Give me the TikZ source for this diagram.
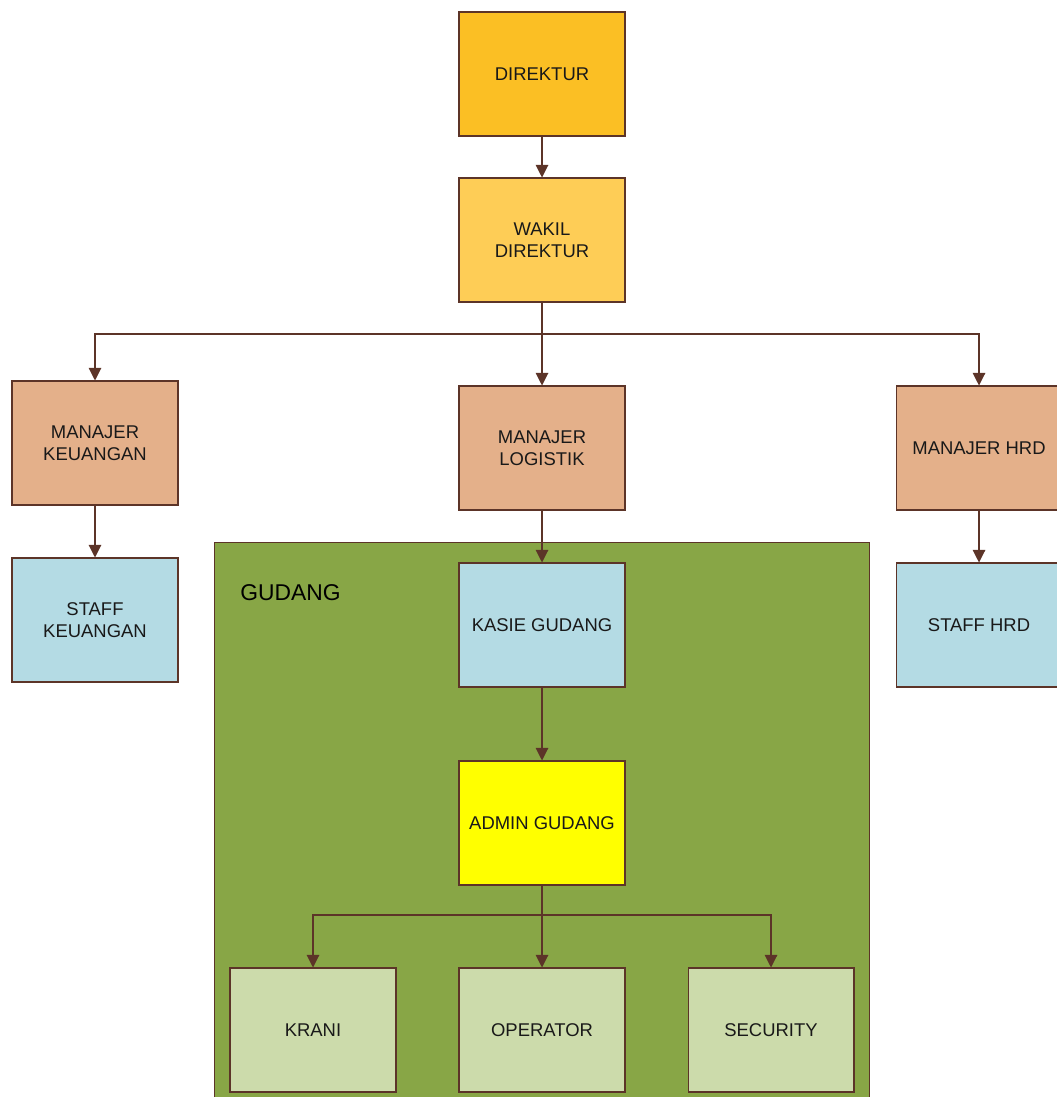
\documentclass[tikz,border=0pt]{standalone}
\usepackage{fontspec}
\setmainfont{Liberation Sans}
\usetikzlibrary{arrows.meta}
\definecolor{orgline}{RGB}{92,52,40}
\definecolor{direkturfill}{RGB}{251,191,36}
\definecolor{wakilfill}{RGB}{254,205,86}
\definecolor{manajerfill}{RGB}{228,176,138}
\definecolor{stafffill}{RGB}{180,219,228}
\definecolor{gudangfill}{RGB}{136,166,70}
\definecolor{adminfill}{RGB}{255,255,0}
\definecolor{pekerjafill}{RGB}{204,219,171}

\begin{document}
\begin{tikzpicture}[x=0.02cm, y=-0.02cm,
    box/.style={draw=orgline, line width=0.6pt, minimum width=3.32cm, minimum height=2.48cm,
                inner sep=0pt, align=center, text=black!90, font=\fontsize{10.5}{12.5}\selectfont},
    link/.style={draw=orgline, line width=0.6pt, -{Triangle[length=0.25cm, width=0.25cm]}}]
                \useasboundingbox (0,0) rectangle (1056,1097);

                % Gudang area
                \node[draw=orgline, line width=0.6pt, fill=gudangfill, anchor=north west,
                      minimum width=13.1cm, minimum height=12cm] (gudang) at (214,542) {};
                \node[anchor=west, inner sep=0pt, font=\fontsize{13}{15}\selectfont] (gudanglabel) at (240,593) {GUDANG};

                % Pimpinan
                \node[box, fill=direkturfill] (direktur) at (542,74) {DIREKTUR};
                \node[box, fill=wakilfill] (wakil) at (542,240) {WAKIL\\DIREKTUR};

                % Manajer
                \node[box, fill=manajerfill] (mkeuangan) at (95,443) {MANAJER\\KEUANGAN};
                \node[box, fill=manajerfill] (mlogistik) at (542,448) {MANAJER\\LOGISTIK};
                \node[box, fill=manajerfill] (mhrd) at (979,448) {MANAJER HRD};

                % Staff
                \node[box, fill=stafffill] (skeuangan) at (95,620) {STAFF\\KEUANGAN};
                \node[box, fill=stafffill] (kasie) at (542,625) {KASIE GUDANG};
                \node[box, fill=stafffill] (shrd) at (979,625) {STAFF HRD};

                % Gudang
                \node[box, fill=adminfill] (admin) at (542,823) {ADMIN GUDANG};
                \node[box, fill=pekerjafill] (krani) at (313,1030) {KRANI};
                \node[box, fill=pekerjafill] (operator) at (542,1030) {OPERATOR};
                \node[box, fill=pekerjafill] (security) at (771,1030) {SECURITY};

                % Garis
                \coordinate (cabang) at (542,334);
                \coordinate (cabanggudang) at (542,915);
                \draw[link] (direktur) -- (wakil);
                \draw[link] (wakil) -- (mlogistik);
                \draw[link] (cabang) -| (mkeuangan);
                \draw[link] (cabang) -| (mhrd);
                \draw[link] (mkeuangan) -- (skeuangan);
                \draw[link] (mlogistik) -- (kasie);
                \draw[link] (mhrd) -- (shrd);
                \draw[link] (kasie) -- (admin);
                \draw[link] (admin) -- (operator);
                \draw[link] (cabanggudang) -| (krani);
                \draw[link] (cabanggudang) -| (security);
            \end{tikzpicture}
\end{document}
